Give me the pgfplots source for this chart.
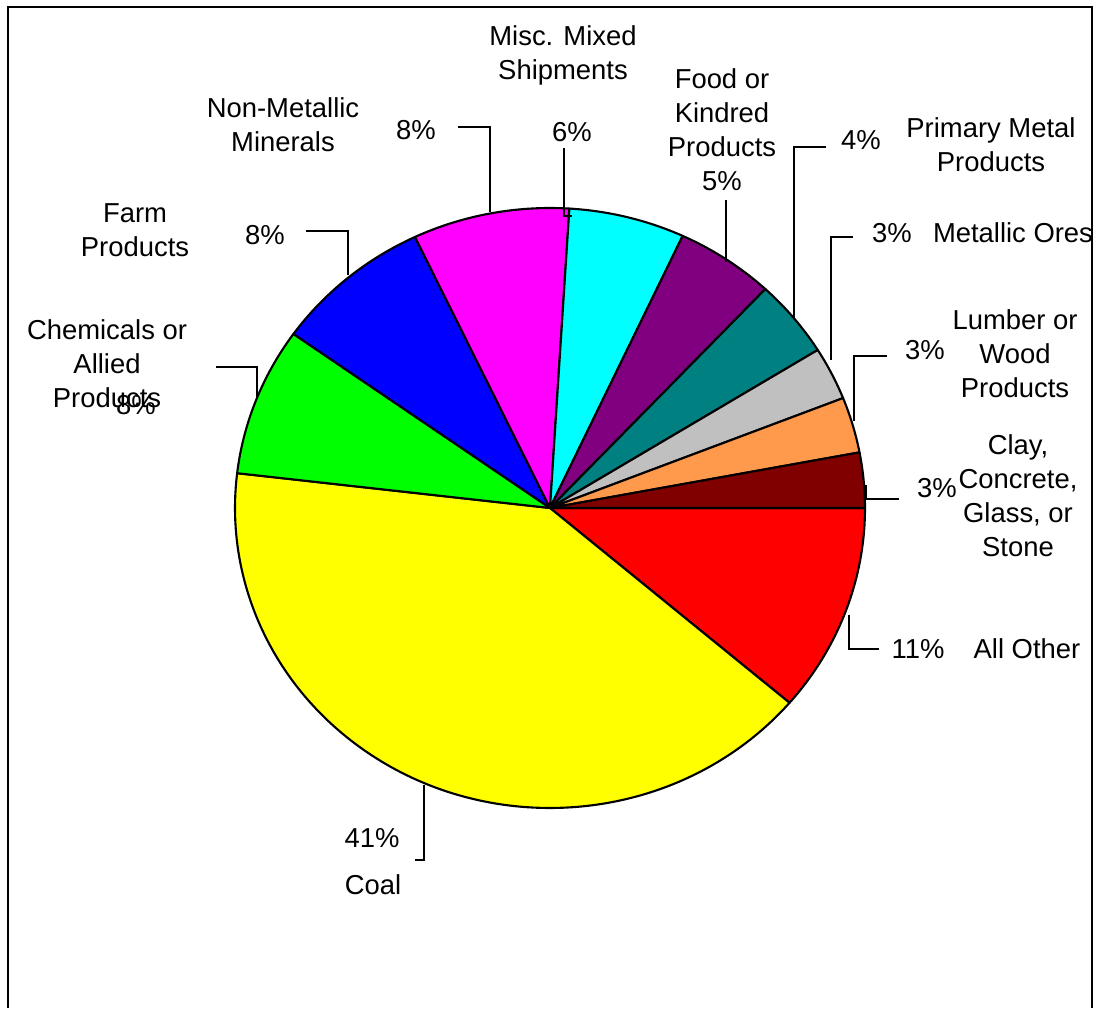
\documentclass[border=0pt]{standalone}
\usepackage{pgfplots}
\usepackage{pgfplotstable}
\pgfplotsset{compat=1.18}
\usepackage{fontspec}
\setmainfont{Liberation Sans}
\definecolor{cRed}{HTML}{FF0000}
\definecolor{cYellow}{HTML}{FFFF00}
\definecolor{cGreen}{HTML}{00FF00}
\definecolor{cBlue}{HTML}{0000FF}
\definecolor{cMagenta}{HTML}{FF00FF}
\definecolor{cCyan}{HTML}{00FFFF}
\definecolor{cPurple}{HTML}{800080}
\definecolor{cTeal}{HTML}{008080}
\definecolor{cSilver}{HTML}{C0C0C0}
\definecolor{cOrange}{HTML}{FF9A4D}
\definecolor{cMaroon}{HTML}{800000}

% shares (percent), clockwise from 3 o'clock
\pgfplotstableread{
name      value  color
AllOther  11.25  cRed
Coal      40.60  cYellow
Chemicals  8.00  cGreen
Farm       8.10  cBlue
NonMetal   8.03  cMagenta
Misc       5.94  cCyan
Food       5.06  cPurple
Primary    4.19  cTeal
MetOres    2.86  cSilver
Lumber     3.00  cOrange
Clay       2.97  cMaroon
}\piedata

\begin{document}
\begin{tikzpicture}
\begin{axis}[
  scale only axis, width=10.96cm, height=10.08cm,
  xmin=0, xmax=1096, ymin=0, ymax=1008,
  hide axis, clip=false,
  at={(0,0)}, anchor=south west,
]
\path (axis cs:0,0) rectangle (axis cs:1096,1008);
\xdef\cum{0}
\pgfplotsinvokeforeach{0,...,10}{%
  \pgfplotstablegetelem{#1}{value}\of\piedata
  \pgfmathsetmacro\sA{-3.6*\cum}%
  \pgfmathsetmacro\newcum{\cum+\pgfplotsretval}%
  \xdef\cum{\newcum}%
  \pgfmathsetmacro\eA{-3.6*\cum}%
  \pgfplotstablegetelem{#1}{color}\of\piedata
  \edef\cC{\pgfplotsretval}%
  \edef\temp{\noexpand\filldraw[fill=\cC,draw=black,line width=0.6pt,line join=round]
    (axis cs:550,500) -- ++(\sA:3.15cm and 3.0cm)
    arc[start angle=\sA, end angle=\eA, x radius=3.15cm, y radius=3.0cm] -- cycle;}%
  \temp
}
% frame
\draw[line width=0.7pt] (axis cs:8,0) -- (axis cs:8,1001) -- (axis cs:1092,1001) -- (axis cs:1092,0);
% leader lines
\begin{scope}[line width=0.55pt]
\draw (axis cs:564,860) -- (axis cs:564,792) -- (axis cs:572,792);
\draw (axis cs:458,881) -- (axis cs:490,881) -- (axis cs:490,796);
\draw (axis cs:306,777) -- (axis cs:348,777) -- (axis cs:348,733);
\draw (axis cs:216,641) -- (axis cs:257,641) -- (axis cs:257,611);
\draw (axis cs:726,808) -- (axis cs:726,746);
\draw (axis cs:826,861) -- (axis cs:794,861) -- (axis cs:794,690);
\draw (axis cs:853,771) -- (axis cs:831,771) -- (axis cs:831,648);
\draw (axis cs:887,652) -- (axis cs:854,652) -- (axis cs:854,587);
\draw (axis cs:899,509) -- (axis cs:866,509) -- (axis cs:866,523);
\draw (axis cs:879,359) -- (axis cs:849,359) -- (axis cs:849,393);
\draw (axis cs:424,223) -- (axis cs:424,148) -- (axis cs:415,148);
\end{scope}
% labels
\begin{scope}[every node/.style={inner sep=0pt, align=center, font=\fontsize{7.8}{9.7}\selectfont}]
\node at (axis cs:563,953) {Misc. Mixed\\Shipments};
\node at (axis cs:572,876) {6\%};
\node at (axis cs:283,883) {Non-Metallic\\Minerals};
\node at (axis cs:416,878) {8\%};
\node at (axis cs:135,778) {Farm\\Products};
\node at (axis cs:265,773) {8\%};
\node at (axis cs:107,644) {Chemicals or\\Allied\\Products};
\node at (axis cs:136,603) {8\%};
\node at (axis cs:722,878) {Food or\\Kindred\\Products\\5\%};
\node at (axis cs:861,868) {4\%};
\node at (axis cs:991,863) {Primary Metal\\Products};
\node at (axis cs:892,775) {3\%};
\node at (axis cs:1013,775) {Metallic Ores};
\node at (axis cs:925,658) {3\%};
\node at (axis cs:1015,654) {Lumber or\\Wood\\Products};
\node at (axis cs:937,520) {3\%};
\node at (axis cs:1018,512) {Clay,\\Concrete,\\Glass, or\\Stone};
\node at (axis cs:918,359) {11\%};
\node at (axis cs:1027,359) {All Other};
\node at (axis cs:372,170) {41\%};
\node at (axis cs:373,123) {Coal};
\end{scope}
\end{axis}
\end{tikzpicture}
\end{document}
